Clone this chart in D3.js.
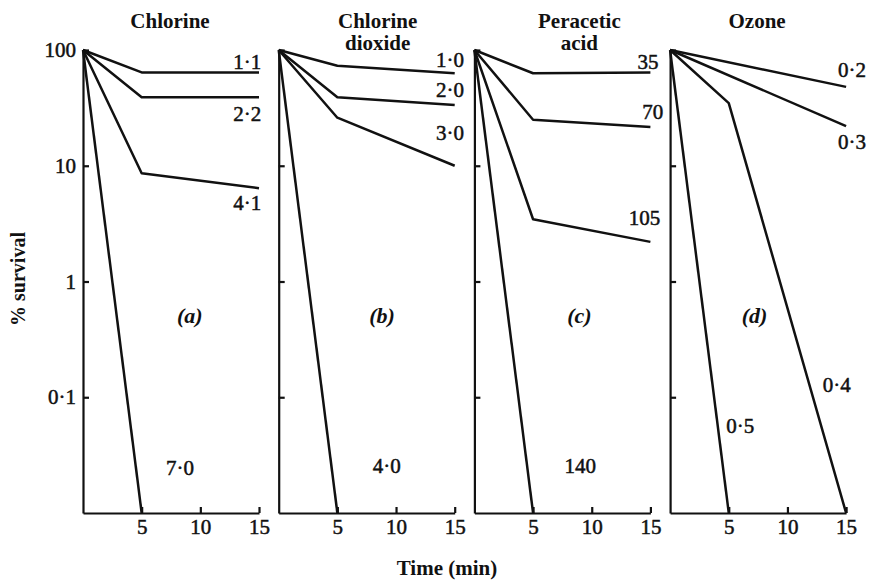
<!DOCTYPE html>
<html>
<head>
<meta charset="utf-8">
<script src="https://cdn.jsdelivr.net/npm/d3@7"></script>
<style>
  body { margin: 0; background: #fff; }
  svg text { font-family: "Liberation Serif", "DejaVu Serif", serif; fill: #111; }
</style>
</head>
<body>
<svg id="chart" width="869" height="583"></svg>
<script>
// Panel titles and tags
const PANEL_TITLES = [["Chlorine"], ["Chlorine", "dioxide"], ["Peracetic", "acid"], ["Ozone"]];
const PANEL_TAGS = ["(a)", "(b)", "(c)", "(d)"];

// Axis ticks
const Y_TICKS = [100, 10, 1, 0.1];
const Y_TICK_LABELS = ["100", "10", "1", "0·1"];
const X_TICKS = [5, 10, 15];

// Survival (%) read at sample times (min). 0.01 = fell below the axis floor.
const chlorineDoses = ["1·1", "2·2", "4·1", "7·0"];
const chlorineTimes = [[0, 5, 15], [0, 5, 15], [0, 5, 15], [0, 5]];
const chlorineSurvival = [[100, 64, 64], [100, 39, 39], [100, 8.6, 6.4], [100, 0.01]];

const dioxideDoses = ["1·0", "2·0", "3·0", "4·0"];
const dioxideTimes = [[0, 5, 15], [0, 5, 15], [0, 5, 15], [0, 5]];
const dioxideSurvival = [[100, 73, 63], [100, 39, 33.5], [100, 26, 10], [100, 0.01]];

const peraceticDoses = ["35", "70", "105", "140"];
const peraceticTimes = [[0, 5, 15], [0, 5, 15], [0, 5, 15], [0, 5]];
const peraceticSurvival = [[100, 63, 64], [100, 25, 21.6], [100, 3.45, 2.2], [100, 0.01]];

const ozoneDoses = ["0·2", "0·3", "0·4", "0·5"];
const ozoneTimes = [[0, 15], [0, 15], [0, 5, 15], [0, 5]];
const ozoneSurvival = [[100, 48], [100, 22], [100, 34.8, 0.01], [100, 0.01]];

const PANELS = [
    { doses: chlorineDoses, times: chlorineTimes, survival: chlorineSurvival },
    { doses: dioxideDoses, times: dioxideTimes, survival: dioxideSurvival },
    { doses: peraceticDoses, times: peraceticTimes, survival: peraceticSurvival },
    { doses: ozoneDoses, times: ozoneTimes, survival: ozoneSurvival }
];

// where each dose label sits, in (time, survival) units of its panel
const LABEL_AT = [
    [[14.0, 78.7], [14.0, 28], [14.0, 4.77], [8.27, 0.0245]],
    [[14.6, 82], [14.6, 45], [14.6, 19.2], [9.2, 0.0255]],
    [[14.8, 78.7], [15.2, 29.1], [14.5, 3.54], [9.03, 0.0255]],
    [[15.5, 67], [15.5, 16], [14.2, 0.128], [5.97, 0.0565]]
];
const TAG_T = [9.1, 8.8, 8.95, 7.2];
const TITLE_CX = [87, 99, 105, 87];

const svg = d3.select("#chart");

const PANEL_LEFT = 83, PANEL_STEP = 195.7, PANEL_W = 176;
const TOP = 50, BOTTOM = 513;

const y = d3.scaleLog().domain([0.01, 100]).range([BOTTOM, TOP]);

PANELS.forEach((p, i) => {
    const x0 = PANEL_LEFT + i * PANEL_STEP;
    const x = d3.scaleLinear().domain([0, 15]).range([x0, x0 + PANEL_W]);
    const g = svg.append("g");

    // y axis, ticks point inwards
    const yAxis = d3.axisLeft(y)
        .tickValues(Y_TICKS)
        .tickSizeInner(-6)
        .tickSizeOuter(0)
        .tickPadding(7)
        .tickFormat((d, j) => i === 0 ? Y_TICK_LABELS[j] : "");
    const ya = g.append("g").attr("transform", `translate(${x0},0)`).call(yAxis);

    // x axis
    const xAxis = d3.axisBottom(x)
        .tickValues(X_TICKS)
        .tickSizeInner(-6)
        .tickSizeOuter(0)
        .tickPadding(6)
        .tickFormat(d3.format("d"));
    const xa = g.append("g").attr("transform", `translate(0,${BOTTOM})`).call(xAxis);

    [ya, xa].forEach(a => {
        a.attr("font-family", null).attr("font-size", null);
        a.selectAll("path, line").attr("stroke", "#111").attr("stroke-width", 2.2);
        a.selectAll("text")
            .style("font-size", "21px")
            .attr("stroke", "#111").attr("stroke-width", 0.5);
    });

    // survival lines
    const line = d3.line()
        .x(d => x(d[0]))
        .y(d => y(d[1]));
    p.survival.forEach((vals, k) => {
        const pts = vals.map((v, m) => [p.times[k][m], v]);
        g.append("path")
            .attr("d", line(pts))
            .attr("fill", "none")
            .attr("stroke", "#111")
            .attr("stroke-width", 2.5)
            .attr("stroke-linejoin", "round");
    });

    // dose labels
    p.doses.forEach((d, k) => {
        const at = LABEL_AT[i][k];
        g.append("text")
            .attr("x", x(at[0]))
            .attr("y", y(at[1]))
            .attr("dy", "0.35em")
            .attr("text-anchor", "middle")
            .style("font-size", "21px")
            .attr("stroke", "#111").attr("stroke-width", 0.5)
            .text(d);
    });

    // panel tag
    g.append("text")
        .attr("x", x(TAG_T[i]))
        .attr("y", y(0.514))
        .attr("dy", "0.35em")
        .attr("text-anchor", "middle")
        .style("font-size", "22px")
        .style("font-style", "italic")
        .style("font-weight", "bold")
        .text(PANEL_TAGS[i]);

    // title
    PANEL_TITLES[i].forEach((t, k) => {
        g.append("text")
            .attr("x", x0 + TITLE_CX[i])
            .attr("y", 28 + k * 22)
            .attr("text-anchor", "middle")
            .style("font-size", "21px")
            .style("font-weight", "bold")
            .text(t);
    });
});

// axis titles
svg.append("text")
    .attr("transform", "translate(25,279) rotate(-90)")
    .attr("text-anchor", "middle")
    .style("font-size", "20px")
    .style("font-weight", "bold")
    .text("% survival");

svg.append("text")
    .attr("x", 447)
    .attr("y", 575)
    .attr("text-anchor", "middle")
    .style("font-size", "21px")
    .style("font-weight", "bold")
    .text("Time (min)");
</script>
</body>
</html>
